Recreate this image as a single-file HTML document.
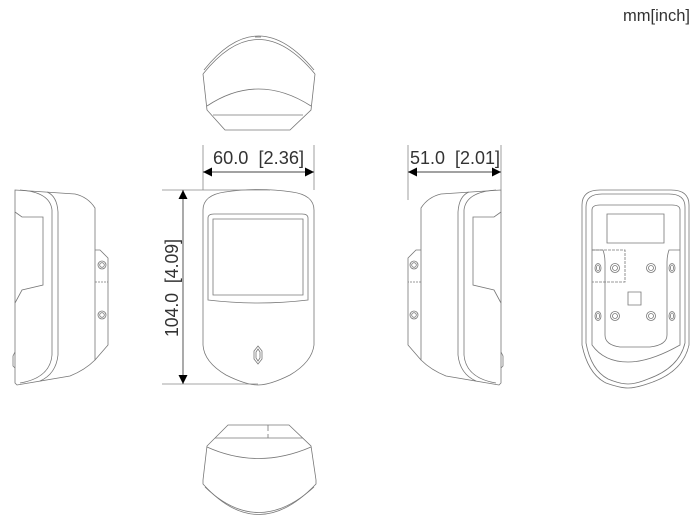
<!DOCTYPE html>
<html><head><meta charset="utf-8"><style>
html,body{margin:0;padding:0;background:#fff;}
svg{display:block;}
text{font-family:"Liberation Sans",sans-serif;fill:#333;}
</style></head><body>
<svg width="700" height="523" viewBox="0 0 700 523" xmlns="http://www.w3.org/2000/svg">
<defs>
<marker id="ar" viewBox="0 0 10 10" refX="10" refY="5" markerWidth="16" markerHeight="9" markerUnits="userSpaceOnUse" orient="auto"><path d="M0,0 L10,5 L0,10 Z" fill="#000"/></marker>
</defs>
<text x="623" y="21" font-size="17" textLength="67" lengthAdjust="spacingAndGlyphs">mm[inch]</text>

<g fill="none" stroke="#777" stroke-width="0.8">
<!-- top view -->
<path d="M203,74 Q258,5 315,74"/>
<path d="M204,70 Q258,2 314,70"/>
<path d="M203,74 L207,110 L225,130 L290,130 L311,110 L315,74"/>
<path d="M207,106 Q258,72 311,106"/>
<path d="M213,115 L303,115"/>
<path d="M255,37 L261,37"/>

<!-- front view -->
<path d="M203,210 Q203,195 225,192 Q258,187 292,192 Q314,195 314,210 L314,345 Q312,362 290,375 Q270,385 258,385 Q246,385 226,375 Q204,362 203,345 Z"/>
<path d="M208,218 Q208,214 214,214 L302,214 Q308,214 308,218 L308,300 Q258,306 208,300 Z"/>
<path d="M213,219 L303,219 L303,295 L213,295 Z"/>
<path d="M258,346 L262,351 L262,359 L258,364 L254,359 L254,351 Z"/>
<path d="M258,349 L260,352 L260,358 L258,361 L256,358 L256,352 Z"/>

<!-- bottom view -->
<path d="M228,425 L289,425 L311,446 L316,480 L316,484 Q258,545 203,484 L203,480 L207,446 Z"/>
<path d="M215,438 L303,438"/>
<path d="M207,447 Q258,470 311,447"/>
<path d="M205,487 Q258,538 314,487"/>
<path d="M268,425 L268,431 M268,434 L268,438"/>

<!-- left side view -->
<g id="side">
<path d="M15,190 L75,194 Q88,197 95,208 L95,360 Q85,370 70,376 L17,385 L15,383 Z"/>
<path d="M20,190 Q50,192 52,210 L52,355 Q50,378 20,383"/>
<path d="M47,192 Q57,196 58,212 L58,355 Q56,374 40,381"/>
<path d="M15,212 L22,217 L43,217 L43,285 L22,290 L15,303"/>
<path d="M95,250 L100,250 L108,258 L108,345 L95,360"/>
<path d="M95,282 L108,282" stroke-dasharray="2,1"/>
<circle cx="102" cy="265" r="4"/><circle cx="102" cy="265" r="2.3"/>
<circle cx="102" cy="315" r="4"/><circle cx="102" cy="315" r="2.3"/>
<path d="M15,352 L13,356 L13,366 L15,368"/>
</g>
<use href="#side" transform="translate(516,0) scale(-1,1)"/>

<!-- back view -->
<path d="M582,205 Q582,190 600,190 L671,190 Q689,190 689,205 L689,345 Q683,372 650,383 Q636,388 628,388 Q620,388 606,383 Q588,374 582,345 Z"/>
<path d="M586,207 Q586,194 602,194 L669,194 Q685,194 685,207 L685,343 Q679,368 648,379 Q636,384 628,384 Q620,384 608,379 Q591,370 586,343 Z"/>
<path d="M592,210 Q592,205 600,205 L672,205 Q680,205 680,210 L680,345 Q650,362 628,362 Q604,362 592,345 Z"/>
<path d="M607,214 L664,214 L664,243 L607,243 Z"/>
<path d="M592,250 L625,250 L625,282 L592,282" stroke-dasharray="3,1"/>
<path d="M592,250 L603,250 Q605,256 605,262 L605,335 Q605,345 620,347 L650,347 Q667,345 667,335 L667,262 Q667,256 669,250 L680,250"/>
<path d="M628,292 L641,292 L641,305 L628,305 Z"/>
<g>
<ellipse cx="598" cy="268" rx="3" ry="4.5"/><ellipse cx="598" cy="268" rx="1.5" ry="3"/>
<circle cx="615" cy="268" r="4.5"/><circle cx="615" cy="268" r="2.5"/>
<circle cx="651" cy="268" r="4.5"/><circle cx="651" cy="268" r="2.5"/>
<ellipse cx="672" cy="268" rx="3" ry="4.5"/><ellipse cx="672" cy="268" rx="1.5" ry="3"/>
<ellipse cx="598" cy="316" rx="3" ry="4.5"/><ellipse cx="598" cy="316" rx="1.5" ry="3"/>
<circle cx="615" cy="316" r="4.5"/><circle cx="615" cy="316" r="2.5"/>
<circle cx="651" cy="316" r="4.5"/><circle cx="651" cy="316" r="2.5"/>
<ellipse cx="672" cy="316" rx="3" ry="4.5"/><ellipse cx="672" cy="316" rx="1.5" ry="3"/>
</g>
</g>

<!-- dimensions -->
<g stroke="#888" stroke-width="0.8" fill="none">
<path d="M203,145 L203,190 M314,145 L314,190"/>
<path d="M408,145 L408,200 M501,145 L501,190"/>
<path d="M162,190 L270,190 M162,384 L258,384"/>
</g>
<g stroke="#444" stroke-width="0.9">
<line x1="258" y1="172" x2="203" y2="172" marker-end="url(#ar)"/>
<line x1="258" y1="172" x2="314" y2="172" marker-end="url(#ar)"/>
<line x1="454" y1="172" x2="408" y2="172" marker-end="url(#ar)"/>
<line x1="454" y1="172" x2="501" y2="172" marker-end="url(#ar)"/>
<line x1="183" y1="287" x2="183" y2="190" marker-end="url(#ar)"/>
<line x1="183" y1="287" x2="183" y2="384" marker-end="url(#ar)"/>
</g>
<text x="213" y="164" font-size="18" textLength="91" lengthAdjust="spacingAndGlyphs" xml:space="preserve">60.0  [2.36]</text>
<text x="410" y="164" font-size="18" textLength="90" lengthAdjust="spacingAndGlyphs" xml:space="preserve">51.0  [2.01]</text>
<text transform="translate(178,337) rotate(-90)" font-size="18" textLength="98" lengthAdjust="spacingAndGlyphs" xml:space="preserve">104.0  [4.09]</text>
</svg>
</body></html>
